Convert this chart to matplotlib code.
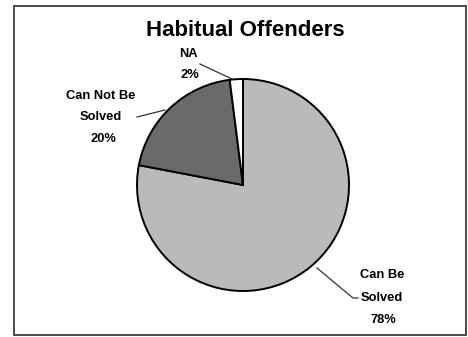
import matplotlib
matplotlib.use("Agg")
import matplotlib.pyplot as plt
from matplotlib.patches import Rectangle

title = "Habitual Offenders"
categories = ["Can Be\nSolved", "Can Not Be\nSolved", "NA"]
values = [78, 20, 2]
colors = ["#bababa", "#6a6a6a", "#ffffff"]

W, H = 468, 337
fig = plt.figure(figsize=(W / 100, H / 100), dpi=100)
plt.rcParams['font.family'] = ['Liberation Sans', 'DejaVu Sans']

# border
fig.patches.append(Rectangle((14 / W, 2 / H), (466 - 14) / W, (332 - 3) / H,
                             transform=fig.transFigure, fill=False,
                             edgecolor="#4a4a4a", linewidth=1.4))

cx, cy, r = 243, 185, 106
ax = fig.add_axes([(cx - r) / W, (H - cy - r) / H, 2 * r / W, 2 * r / H])
wedges, _ = ax.pie(values, colors=colors, startangle=90, counterclock=False,
                   radius=1.0, wedgeprops=dict(edgecolor="black", linewidth=1.4))
ax.set_xlim(-1, 1)
ax.set_ylim(-1, 1)
ax.set_aspect('equal')
ax.axis('off')

def d(px, py):
    return ((px - cx) / r, (cy - py) / r)

fig.text(245 / W, 1 - 31 / H, title, ha="center", va="center",
         fontsize=16, fontweight="bold")

lab_fs = 9.3
label_pos = {
    0: [(382, 275), (382, 298), (383, 320)],
    1: [(101, 96), (101, 117), (103, 139)],
    2: [(188, 54), (190, 75)],
}
for i, (cat, v) in enumerate(zip(categories, values)):
    lines = cat.split("\n") + [f"{v}%"]
    for txt, (px, py) in zip(lines, label_pos[i]):
        x, y = d(px, py)
        ax.text(x, y, txt, ha="center", va="center", fontsize=lab_fs,
                fontweight="bold", clip_on=False)

leaders = [
    [(317, 268), (353, 298), (358, 298)],
    [(137, 117), (165, 110)],
    [(200, 64), (232, 79)],
]
for pts in leaders:
    xs, ys = zip(*[d(px, py) for px, py in pts])
    ax.plot(xs, ys, color="#333333", linewidth=0.9, clip_on=False)

fig.savefig("out.png", dpi=100)
